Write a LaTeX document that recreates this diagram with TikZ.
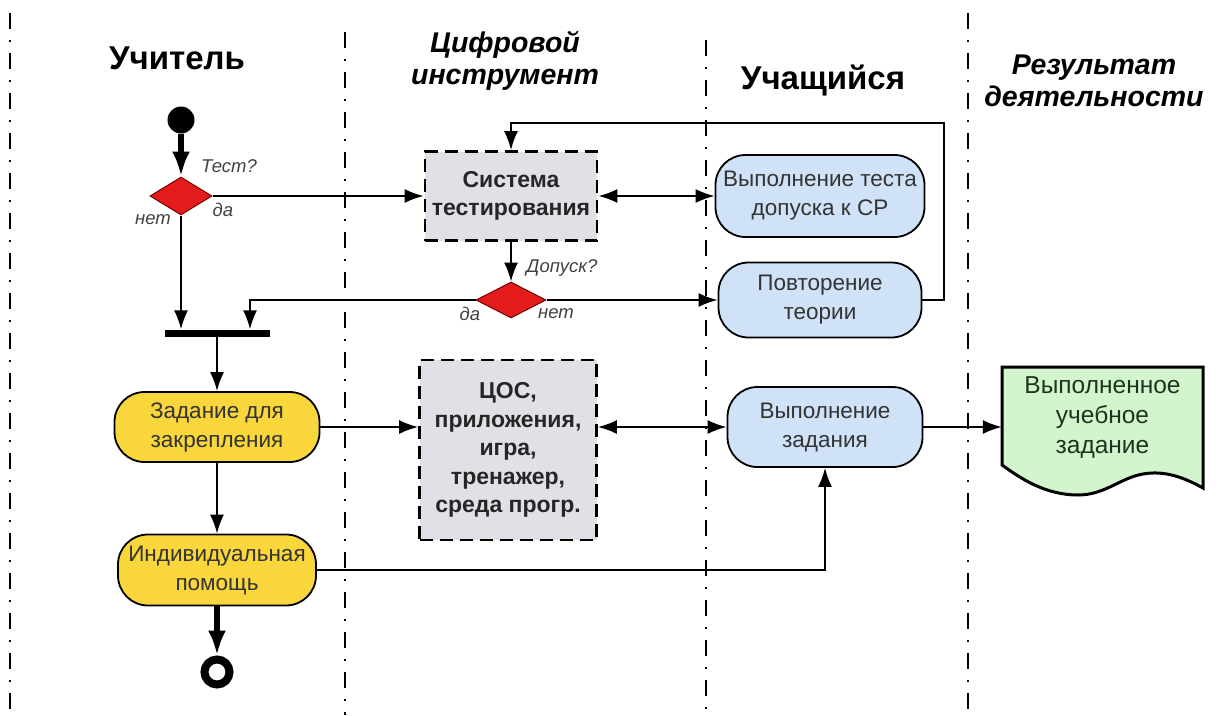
\documentclass[tikz,border=0pt]{standalone}
\usepackage{fontspec}
\setmainfont{Liberation Sans}
\usetikzlibrary{arrows.meta,shapes.geometric,positioning}

\definecolor{decred}{HTML}{E31B1B}
\definecolor{actyellow}{HTML}{F9D63C}
\definecolor{actblue}{HTML}{CFE2F7}
\definecolor{toolgray}{HTML}{DFE1E6}
\definecolor{docgreen}{HTML}{D3F5CD}
\definecolor{doctext}{HTML}{1F3320}

\begin{document}
\begin{tikzpicture}[x=1pt, y=-1pt,
    lane/.style={line width=1.8pt, dash pattern=on 16pt off 11pt on 2pt off 11pt},
    head/.style={font=\fontsize{33}{35}\selectfont\bfseries, align=center},
    headit/.style={font=\fontsize{28.5}{32}\selectfont\bfseries\itshape, align=center},
    act/.style={draw, line width=1.8pt, rounded corners=30pt, text=black!80,
        font=\fontsize{22.5}{29}\selectfont, align=center, inner sep=0pt},
    tool/.style={draw, line width=2.8pt, dash pattern=on 13pt off 7pt, fill=toolgray,
        text=black!85, font=\fontsize{23}{28.5}\selectfont\bfseries, align=center, inner sep=0pt},
    dec/.style={diamond, draw=red!45!black, line width=1pt, fill=decred, inner sep=0pt},
    lbl/.style={font=\fontsize{18.5}{20}\selectfont\itshape, text=black!75},
    flow/.style={-{Latex[length=19pt,width=14pt]}, line width=1.8pt},
    both/.style={{Latex[length=19pt,width=14pt]}-{Latex[length=19pt,width=14pt]}, line width=1.8pt},
    heavy/.style={-{Latex[length=25pt,width=18pt]}, line width=5.5pt}]
    \useasboundingbox (0,0) rectangle (1221,715);

    % swimlanes
    \draw[lane] (10,13) -- (10,715);
    \draw[lane] (345,32) -- (345,715);
    \draw[lane] (706,40) -- (706,715);
    \draw[lane] (968,13) -- (968,715);

    \node[head] (hTeach) at (177,58) {Учитель};
    \node[headit] (hTool) at (505,61) {Цифровой\\инструмент};
    \node[head] (hPupil) at (823,81) {Учащийся};
    \node[headit] (hResult) at (1094,81) {Результат\\деятельности};

    % teacher lane
    \node[circle, fill=black, minimum size=27pt, inner sep=0pt] (start) at (181,120) {};
    \node[dec, minimum width=62pt, minimum height=38pt] (test) at (181,196) {};
    \node[lbl] (qTest) at (229,166) {Тест?};
    \node[lbl] (yes1) at (223,210) {да};
    \node[lbl] (no1) at (153,220) {нет};
    \node[fill=black, minimum width=105pt, minimum height=7pt, inner sep=0pt] (sync) at (217,333) {};
    \node[act, fill=actyellow, minimum width=205pt, minimum height=70pt] (task) at (217,427) {Задание для\\закрепления};
    \node[act, fill=actyellow, minimum width=198pt, minimum height=71pt] (help) at (217,570) {Индивидуальная\\помощь};
    \node[circle, draw, line width=8pt, minimum size=25pt, inner sep=0pt] (stop) at (217,672) {};

    % tool lane
    \node[tool, minimum width=172pt, minimum height=89pt] (sys) at (511,196) {Система\\тестирования};
    \node[dec, minimum width=70pt, minimum height=36pt] (pass) at (511,300) {};
    \node[lbl] (qPass) at (562,268) {Допуск?};
    \node[lbl] (yes2) at (470,314) {да};
    \node[lbl] (no2) at (556,314) {нет};
    \node[tool, minimum width=177pt, minimum height=180pt] (tools) at (508,450) {ЦОС,\\приложения,\\игра,\\тренажер,\\среда прогр.};

    % pupil lane
    \node[act, fill=actblue, minimum width=209pt, minimum height=82pt] (admit) at (820,196) {Выполнение теста\\допуска к СР};
    \node[act, fill=actblue, minimum width=203pt, minimum height=75pt] (review) at (820,300) {Повторение\\теории};
    \node[act, fill=actblue, minimum width=195pt, minimum height=80pt] (work) at (825,427) {Выполнение\\задания};

    % result lane
    \draw[line width=3pt, fill=docgreen] (1002,367) -- (1203,367) -- (1203,488)
        .. controls (1185,478) and (1165,470) .. (1143,474)
        .. controls (1120,478) and (1105,495) .. (1078,495)
        .. controls (1045,495) and (1020,478) .. (1002,465) -- cycle;
    \node[text=doctext, font=\fontsize{24.5}{30}\selectfont, align=center,
        minimum width=201pt, inner sep=0pt] (result) at (1102.5,418) {Выполненное\\учебное\\задание};

    \coordinate (loop) at (944,123);

    \draw[heavy] (start) -- (test);
    \draw[flow] (test.east) -- (sys.west);
    \draw[both] (sys.east) -- (admit.west);
    \draw[flow] (sys.south) -- (pass.north);
    \draw[flow] (pass.west) -| ([xshift=33pt]sync.north);
    \draw[flow] (pass.east) -- (review.west);
    \draw[flow] (review.east) -| (loop) -| (sys.north);
    \draw[flow] (test.south) -- (test.south |- sync.north);
    \draw[flow] (sync) -- (task);
    \draw[flow] (task.east) -- (task.east -| tools.west);
    \draw[both] (tools.east |- work.west) -- (work.west);
    \draw[flow] (task) -- (help);
    \draw[flow] (help.east) -| (work.south);
    \draw[heavy] (help) -- (stop);
    \draw[flow] (work.east) -- (work.east -| result.west);
\end{tikzpicture}
\end{document}
